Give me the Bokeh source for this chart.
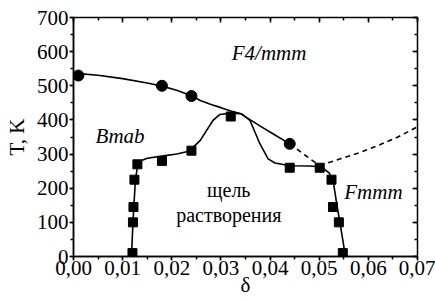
from bokeh.plotting import figure
from bokeh.models import (LinearAxis, SingleIntervalTicker, CustomJSTickFormatter, Range1d)
from bokeh.core.properties import value
from bokeh.embed import file_html
from bokeh.resources import INLINE

# ---- data ----
circ_d = [0.0010, 0.0180, 0.0240, 0.0440]
circ_T = [530, 500, 470, 330]

sq_d = [0.0120, 0.0121, 0.0122, 0.0124, 0.0130, 0.0180, 0.0240, 0.0320,
        0.0440, 0.0501, 0.0525, 0.0528, 0.0540, 0.0548]
sq_T = [10, 100, 145, 225, 270, 280, 310, 410, 260, 260, 225, 145, 100, 10]

# upper (solid) boundary F4/mmm
up_d = [0.000, 0.005, 0.010, 0.015, 0.018, 0.021, 0.024, 0.0258, 0.028, 0.030, 0.032, 0.0339, 0.038, 0.041, 0.044]
up_T = [537, 531, 521, 508, 499, 487, 471, 457, 445, 436, 426, 419, 382, 356, 330]

# dashed continuations
dash1_d = [0.044, 0.047, 0.0501]
dash1_T = [330, 298, 266]
dash2_d = [0.0501, 0.054, 0.058, 0.062, 0.066, 0.070]
dash2_T = [266, 285, 303, 325, 350, 380]

# miscibility gap boundary (solid)
gap_d = [0.0118, 0.0121, 0.0123, 0.0126, 0.0130, 0.0136, 0.0150, 0.0180, 0.0210, 0.0235,
         0.0258, 0.0284, 0.0298, 0.0320, 0.0342, 0.0359, 0.0379, 0.0396, 0.0410, 0.0440,
         0.0480, 0.0505, 0.0520, 0.0528, 0.0535, 0.0542, 0.0549, 0.0553]
gap_T = [0, 100, 150, 225, 262, 280, 288, 294, 300, 308,
         340, 399, 416, 420, 418, 399, 331, 286, 274, 266,
         265, 262, 245, 225, 160, 100, 40, 0]

x_ticks = [0.00, 0.01, 0.02, 0.03, 0.04, 0.05, 0.06, 0.07]
x_tick_labels = ["0,00", "0,01", "0,02", "0,03", "0,04", "0,05", "0,06", "0,07"]

labels_txt = ["F4/mmm", "Bmab", "Fmmm"]
labels_d = [0.0322, 0.0045, 0.0551]
labels_T = [595, 352, 190]

gap_txt = ["щель", "растворения"]
gap_txt_d = [0.0316, 0.0316]
gap_txt_T = [196, 122]

FONT = "Liberation Serif"

p = figure(width=435, height=302, output_backend="svg", toolbar_location=None,
           x_range=Range1d(0, 0.07), y_range=Range1d(0, 700),
           min_border_left=73, min_border_right=18, min_border_top=17, min_border_bottom=46)
p.grid.visible = False
p.background_fill_color = "white"
p.outline_line_color = "black"
p.outline_line_width = 1.5

fmt = CustomJSTickFormatter(args=dict(tvals=x_ticks, tlabels=x_tick_labels), code="""
let best = 0, bd = 1e9;
for (let i = 0; i < tvals.length; i++) { const d = Math.abs(tvals[i] - tick); if (d < bd) { bd = d; best = i; } }
return tlabels[best];
""")
blank = CustomJSTickFormatter(code="return '';")

xa = p.xaxis[0]
xa.ticker = SingleIntervalTicker(interval=0.01, num_minor_ticks=2)
xa.formatter = fmt
ya = p.yaxis[0]
ya.ticker = SingleIntervalTicker(interval=100, num_minor_ticks=2)

for ax in (xa, ya):
    ax.axis_line_width = 1.5
    ax.major_tick_line_width = 1.5
    ax.minor_tick_line_width = 1.5
    ax.major_tick_in = 0
    ax.major_tick_out = 4
    ax.minor_tick_in = 0
    ax.minor_tick_out = 3
    ax.major_label_text_font = FONT
    ax.major_label_text_font_size = "21px"
    ax.major_label_text_font_style = "normal"
    ax.major_label_text_color = "black"
    ax.axis_label_text_font = FONT
    ax.axis_label_text_font_style = "normal"
    ax.axis_label_text_font_size = "21px"
    ax.axis_label_text_color = "black"

xa.major_label_standoff = 0
xa.axis_label = "δ"
xa.axis_label_standoff = -5
ya.major_label_standoff = 1
ya.axis_label = "T, K"
ya.axis_label_standoff = 5

top = LinearAxis(ticker=SingleIntervalTicker(interval=0.01, num_minor_ticks=2), formatter=blank)
right = LinearAxis(ticker=SingleIntervalTicker(interval=100, num_minor_ticks=2), formatter=blank)
for ax in (top, right):
    ax.major_label_standoff = 0
    ax.major_label_text_font_size = "1px"
    ax.axis_line_color = None
    ax.major_tick_in = 5
    ax.major_tick_out = 0
    ax.minor_tick_in = 3
    ax.minor_tick_out = 0
    ax.major_tick_line_width = 1.5
    ax.minor_tick_line_width = 1.5
p.add_layout(top, "above")
p.add_layout(right, "right")

p.line(up_d, up_T, line_color="black", line_width=1.6)
p.line(gap_d, gap_T, line_color="black", line_width=1.6)
p.line(dash1_d, dash1_T, line_color="black", line_width=1.6, line_dash="5 4")
p.line(dash2_d, dash2_T, line_color="black", line_width=1.6, line_dash="5 4")

p.scatter(circ_d, circ_T, marker="circle", size=11, fill_color="black", line_color="black")
p.scatter(sq_d, sq_T, marker="square", size=9, fill_color="black", line_color="black")

p.text(labels_d, labels_T, text=labels_txt, text_font=value(FONT), text_font_size="21px",
       text_font_style="italic", text_baseline="alphabetic", text_align="left", text_color="black")
p.text(gap_txt_d, gap_txt_T, text=gap_txt, text_font=value(FONT), text_font_size="20px",
       text_baseline="alphabetic", text_align="center", text_color="black")

open("out.html", "w").write(file_html(p, INLINE))
